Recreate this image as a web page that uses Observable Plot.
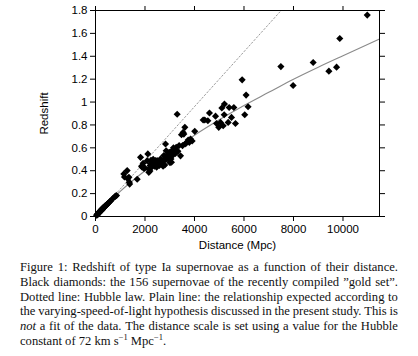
<!DOCTYPE html>
<html>
<head>
<meta charset="utf-8">
<script src="https://cdn.jsdelivr.net/npm/d3@7"></script>
<script src="https://cdn.jsdelivr.net/npm/@observablehq/plot@0.6"></script>
<style>
  html, body { margin: 0; padding: 0; background: white; }
  #chart svg { display: block; }
  #chart svg text { font-weight: normal; }
  #caption {
    width: 378px; margin: 10px 0 0 20px;
    font-family: "Liberation Serif", "DejaVu Serif", serif;
    font-size: 12.6px; line-height: 14.8px; color: #111;
  }
  #caption .j { display: flex; justify-content: space-between; white-space: nowrap; height: 14.8px; }
  #caption .l { white-space: nowrap; }
  #caption sup { font-size: 8.5px; line-height: 0; vertical-align: 5px; }
</style>
</head>
<body>
<div id="chart"></div>
<div id="caption">
  <div class="j"><span>Figure</span><span>1:</span><span>Redshift</span><span>of</span><span>type</span><span>Ia</span><span>supernovae</span><span>as</span><span>a</span><span>function</span><span>of</span><span>their</span><span>distance.</span></div>
  <div class="j"><span>Black</span><span>diamonds:</span><span>the</span><span>156</span><span>supernovae</span><span>of</span><span>the</span><span>recently</span><span>compiled</span><span>”gold</span><span>set”.</span></div>
  <div class="j"><span>Dotted</span><span>line:</span><span>Hubble</span><span>law.</span><span>Plain</span><span>line:</span><span>the</span><span>relationship</span><span>expected</span><span>according</span><span>to</span></div>
  <div class="j"><span>the</span><span>varying-speed-of-light</span><span>hypothesis</span><span>discussed</span><span>in</span><span>the</span><span>present</span><span>study.</span><span>This</span><span>is</span></div>
  <div class="j"><span><i>not</i></span><span>a</span><span>fit</span><span>of</span><span>the</span><span>data.</span><span>The</span><span>distance</span><span>scale</span><span>is</span><span>set</span><span>using</span><span>a</span><span>value</span><span>for</span><span>the</span><span>Hubble</span></div>
  <div class="l">constant of 72 km s<sup>−1</sup> Mpc<sup>−1</sup>.</div>
</div>
<script>
// Supernovae ("gold set"): distance (Mpc) and redshift
const snDistance = [
  45,60,70,75,90,95,100,110,120,125,135,140,150,160,170,180,185,195,210,220,230,235,245,250,260,265,275,290,300,305,315,320,335,350,370,380,395,410,430,440,455,480,510,545,580,620,690,775,810,850,
  1145,1170,1280,1305,1350,1365,1380,1685,1820,1860,1885,1925,1960,1990,2090,2115,2155,2170,2195,2200,2210,2230,2240,2260,2290,2300,2330,
  2355,2380,2425,2450,2470,2490,2520,2540,2580,2600,2625,2650,2680,2700,2730,2760,2780,2800,2830,2855,2880,2910,2930,2960,2980,3010,3030,3050,3070,3100,3120,
  3150,3190,3230,3260,3300,3330,3380,3435,3475,3515,3540,3570,3610,3620,3660,3745,3790,3840,3905,4010,
  4350,4415,4540,4605,4850,4890,4980,5050,5105,5160,5200,5210,5360,5400,5495,5590,5655,5925,6030,6085,6165,
  7490,7985,8795,9430,9740,9870,10980
];
const snRedshift = [
  0.011,0.014,0.016,0.018,0.020,0.022,0.024,0.026,0.029,0.030,0.031,0.038,0.036,0.038,0.041,0.045,0.043,0.046,0.049,0.052,0.059,0.055,0.061,0.058,0.054,0.062,0.065,0.068,0.071,0.076,0.072,0.074,0.078,0.081,0.086,0.091,0.089,0.094,0.098,0.100,0.104,0.108,0.116,0.122,0.131,0.138,0.155,0.172,0.178,0.184,
  0.372,0.345,0.401,0.329,0.343,0.300,0.283,0.325,0.517,0.440,0.430,0.465,0.420,0.425,0.488,0.547,0.386,0.410,0.425,0.398,0.445,0.460,0.490,0.430,0.445,0.470,0.500,
  0.474,0.440,0.488,0.460,0.430,0.488,0.450,0.470,0.445,0.490,0.503,0.470,0.480,0.460,0.440,0.532,0.490,0.450,0.634,0.575,0.500,0.520,0.545,0.503,0.560,0.470,0.547,0.503,0.474,0.530,0.580,
  0.600,0.575,0.550,0.604,0.893,0.570,0.620,0.530,0.715,0.619,0.735,0.720,0.779,0.634,0.640,0.668,0.648,0.677,0.660,0.744,
  0.843,0.843,0.837,0.904,0.877,0.813,0.779,0.822,0.948,0.793,0.889,0.982,0.822,0.953,0.866,0.953,0.813,1.194,0.889,1.061,0.959,
  1.310,1.145,1.345,1.270,1.305,1.555,1.760
];
// Dotted line: Hubble law (read endpoints)
const hubbleDistance = [0, 7500];
const hubbleRedshift = [0, 1.8];
// Plain line: varying-speed-of-light relation
const vslDistance = [0, 500, 1000, 2000, 3000, 4000, 5000, 6000, 7000, 8000, 9000, 10000, 11475];
const vslRedshift = [0, 0.115, 0.22, 0.40, 0.56, 0.71, 0.845, 0.97, 1.085, 1.20, 1.305, 1.405, 1.55];
// Ticks
const xTicks = [0, 2000, 4000, 6000, 8000, 10000];
const yTicks = [0, 0.2, 0.4, 0.6, 0.8, 1.0, 1.2, 1.4, 1.6, 1.8];

const sn = snDistance.map((d, i) => ({d, z: snRedshift[i]}));
const hubble = hubbleDistance.map((d, i) => ({d, z: hubbleRedshift[i]}));
const vsl = vslDistance.map((d, i) => ({d, z: vslRedshift[i]}));

const chart = Plot.plot({
  width: 418,
  height: 250,
  marginTop: 10,
  marginRight: 39,
  marginBottom: 34,
  marginLeft: 95,
  x: {domain: [0, 11475]},
  y: {domain: [0, 1.8]},
  style: {fontFamily: "'Liberation Sans', Arial, sans-serif", fontSize: "11.5px", color: "#000", background: "white", overflow: "visible"},
  marks: [
    Plot.line(hubble, {x: "d", y: "z", stroke: "#9a9a9a", strokeWidth: 1, strokeDasharray: "1.5,2.2"}),
    Plot.line(vsl, {x: "d", y: "z", stroke: "#8a8a8a", strokeWidth: 1.1, curve: "monotone-x"}),
    Plot.dot(sn, {x: "d", y: "z", symbol: "diamond2", r: 3.2, fill: "black", stroke: "none"}),
    Plot.frame({stroke: "black", strokeWidth: 1}),
    Plot.axisX({ticks: xTicks, tickSize: 5, tickPadding: 3, tickFormat: d => String(d), label: "Distance (Mpc)", labelAnchor: "center", labelOffset: 32, labelArrow: "none"}),
    Plot.axisX({anchor: "top", ticks: xTicks, tickSize: 5, tickFormat: () => "", label: null}),
    Plot.axisY({ticks: yTicks, tickSize: 5, tickPadding: 3, tickFormat: d => String(+d.toFixed(1)), label: "Redshift", labelAnchor: "center", labelOffset: 56, labelArrow: "none"}),
    Plot.axisY({anchor: "right", ticks: yTicks, tickSize: 5, tickFormat: () => "", label: null})
  ]
});
document.getElementById("chart").appendChild(chart);
</script>
</body>
</html>
